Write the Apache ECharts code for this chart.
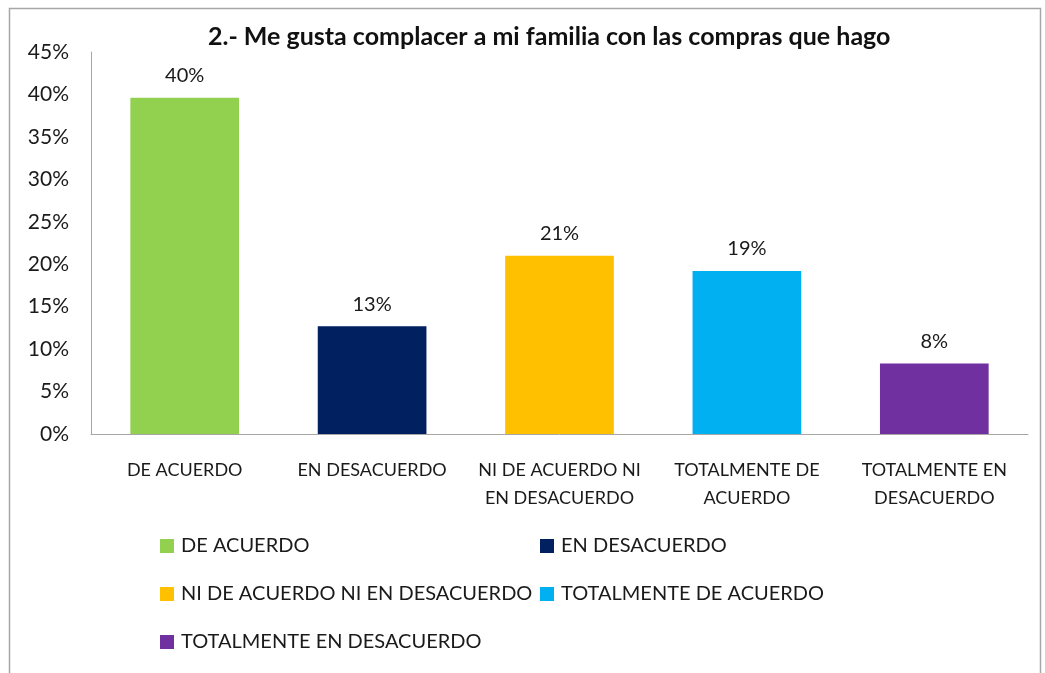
<!DOCTYPE html>
<html>
<head>
<meta charset="utf-8">
<title>Me gusta complacer a mi familia</title>
<script src="https://cdn.jsdelivr.net/npm/echarts@6/dist/echarts.min.js"></script>
<style>
	html, body { margin: 0; padding: 0; background: #fff; }
	#chart { width: 1045px; height: 673px; }
</style>
</head>
<body>
<div id="chart"></div>
<script>
	'use strict';
	var titleText = '2.- Me gusta complacer a mi familia con las compras que hago';
	var categories = ['DE ACUERDO', 'EN DESACUERDO', 'NI DE ACUERDO NI EN DESACUERDO', 'TOTALMENTE DE ACUERDO', 'TOTALMENTE EN DESACUERDO'];
	var axisLabels = ['DE ACUERDO', 'EN DESACUERDO', 'NI DE ACUERDO NI\nEN DESACUERDO', 'TOTALMENTE DE\nACUERDO', 'TOTALMENTE EN\nDESACUERDO'];
	var values = [39.6, 12.7, 21.0, 19.2, 8.3];
	var colors = ['#92d050', '#002060', '#ffc000', '#00b0f0', '#7030a0'];
	var yTicks = [0, 5, 10, 15, 20, 25, 30, 35, 40, 45];

	var font = 'Lato, "Open Sans", sans-serif';

	// one series per answer so each gets its own legend entry
	var series = categories.map(function(name, i){
		var data = categories.map(function(c, j){ return j === i ? values[i] : null; });
		return {
			name: name,
			type: 'bar',
			stack: 'all',
			barWidth: '58%',
			itemStyle: { color: colors[i] },
			label: {
				show: true,
				position: 'top',
				distance: 12,
				fontFamily: font,
				fontSize: 20,
				color: '#1a1a1a',
				formatter: function(p){ return Math.round(p.value) + '%'; }
			},
			data: data
		};
	});

	// legend laid out as a 2-column grid
	var legends = categories.map(function(name, i){
		return {
			data: [name],
			left: i % 2 === 0 ? 155 : 535,
			top: 531 + Math.floor(i / 2) * 48,
			itemWidth: 14,
			itemHeight: 14,
			itemGap: 0,
			icon: 'rect',
			textStyle: { fontFamily: font, fontSize: 20, color: '#1a1a1a', padding: [0, 0, 0, 2] },
			selectedMode: false
		};
	});

	var chart = echarts.init(document.getElementById('chart'));
	chart.setOption({
		animation: false,
		backgroundColor: '#fff',
		graphic: [{
			type: 'rect',
			shape: { x: 9.5, y: 8.5, width: 1031, height: 672 },
			style: { fill: 'none', stroke: '#a6a6a6', lineWidth: 1.5 },
			z: -1
		}],
		title: {
			text: titleText,
			left: 203,
			top: 19,
			textStyle: { fontFamily: font, fontSize: 25, fontWeight: 'bold', color: '#111' }
		},
		legend: legends,
		grid: { left: 91, right: 17, top: 52, bottom: 239, containLabel: false },
		xAxis: {
			type: 'category',
			data: categories,
			axisLine: { lineStyle: { color: '#a6a6a6', width: 1 } },
			axisTick: { show: false },
			axisLabel: {
				interval: 0,
				margin: 22,
				lineHeight: 28,
				fontFamily: font,
				fontSize: 18,
				color: '#1a1a1a',
				formatter: function(v, i){ return axisLabels[i]; }
			}
		},
		yAxis: {
			type: 'value',
			min: yTicks[0],
			max: yTicks[yTicks.length - 1],
			interval: 5,
			axisLine: { show: true, lineStyle: { color: '#a6a6a6', width: 1 } },
			axisTick: { show: false },
			splitLine: { show: false },
			axisLabel: {
				margin: 22,
				fontFamily: font,
				fontSize: 21,
				color: '#1a1a1a',
				formatter: '{value}%'
			}
		},
		series: series
	});
</script>
</body>
</html>
